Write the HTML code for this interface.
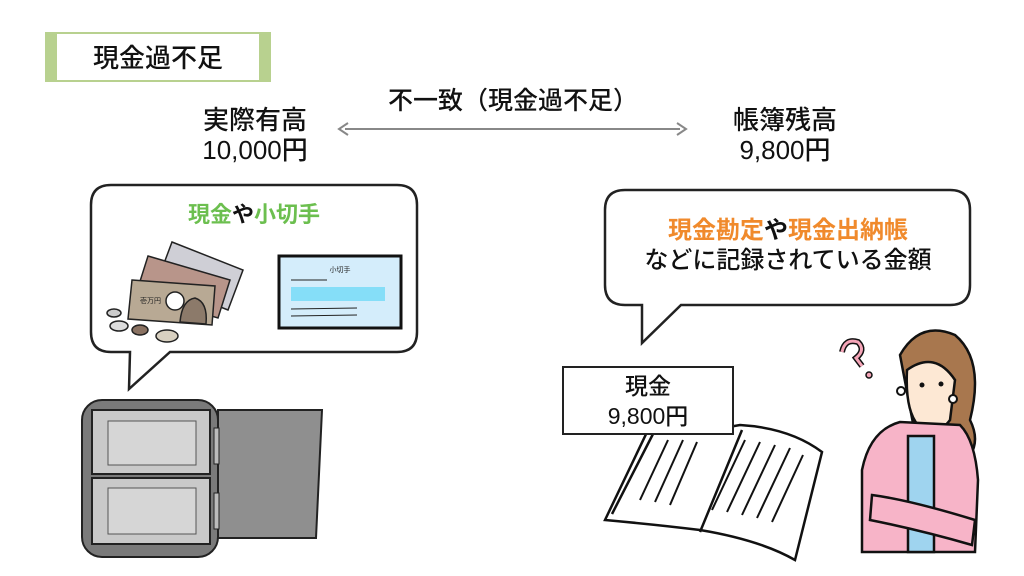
<!DOCTYPE html>
<html><head><meta charset="utf-8"><style>
body{margin:0;background:#fff;}
svg{display:block;font-family:"Liberation Sans","Noto Sans CJK JP",sans-serif;}
</style></head><body>
<svg width="1024" height="576" viewBox="0 0 1024 576">
<!-- title label -->
<rect x="45" y="32" width="226" height="50" fill="#b8d18f"/>
<rect x="57" y="34" width="202" height="46" fill="#fff"/>
<text x="158" y="67" font-size="26" font-weight="500" text-anchor="middle" fill="#111">現金過不足</text>
<!-- headings -->
<text x="255" y="129" font-size="26" font-weight="500" text-anchor="middle" fill="#111">実際有高</text>
<text x="255" y="159" font-size="26" font-weight="500" text-anchor="middle" fill="#111">10,000円</text>
<text x="513" y="109" font-size="25" font-weight="500" text-anchor="middle" fill="#111">不一致（現金過不足）</text>
<text x="785" y="129" font-size="26" font-weight="500" text-anchor="middle" fill="#111">帳簿残高</text>
<text x="785" y="159" font-size="26" font-weight="500" text-anchor="middle" fill="#111">9,800円</text>
<line x1="345" y1="129" x2="680" y2="129" stroke="#888" stroke-width="2"/>
<path d="M348 123 L339 129 L348 135" fill="none" stroke="#888" stroke-width="2"/>
<path d="M677 123 L686 129 L677 135" fill="none" stroke="#888" stroke-width="2"/>
<!-- left bubble -->
<path d="M111 185 H397 Q417 185 417 205 V332 Q417 352 397 352 H170 L129 389 L130 352 H111 Q91 352 91 332 V205 Q91 185 111 185 Z" fill="#fff" stroke="#222" stroke-width="2.5"/>
<text x="254" y="222" font-size="22" text-anchor="middle" font-weight="bold"><tspan fill="#6cbf4f">現金</tspan><tspan fill="#111">や</tspan><tspan fill="#6cbf4f">小切手</tspan></text>
<!-- bills -->
<g stroke="#222" stroke-width="1.5">
<polygon points="172,242 243,270 228,310 157,282" fill="#cfcfd6"/>
<polygon points="148,256 230,280 218,318 136,294" fill="#b8958a"/>
<polygon points="132,280 215,286 212,325 128,319" fill="#b8a994"/>
<circle cx="175" cy="301" r="9" fill="#fff"/>
<path d="M180 322 Q182 300 195 298 Q208 302 206 324 Z" fill="#8c7a6a"/>
</g>
<text x="140" y="303" font-size="7" fill="#222">壱万円</text>
<g stroke="#222" stroke-width="1.5">
<ellipse cx="114" cy="313" rx="7" ry="4" fill="#ccc"/>
<ellipse cx="119" cy="326" rx="9" ry="5" fill="#ddd"/>
<ellipse cx="140" cy="330" rx="8" ry="5" fill="#8a7262"/>
<ellipse cx="167" cy="336" rx="11" ry="6" fill="#d8d0c0"/>
</g>
<!-- cheque -->
<rect x="279" y="256" width="122" height="72" fill="#d4edfb" stroke="#111" stroke-width="3"/>
<text x="340" y="272" font-size="7" text-anchor="middle" fill="#222">小切手</text>
<line x1="291" y1="280" x2="327" y2="280" stroke="#222" stroke-width="1"/>
<rect x="291" y="287" width="94" height="14" fill="#85def8"/>
<line x1="291" y1="309" x2="357" y2="308" stroke="#222" stroke-width="1"/>
<line x1="291" y1="316" x2="357" y2="315" stroke="#222" stroke-width="1"/>
<!-- safe -->
<rect x="82" y="400" width="136" height="157" rx="20" fill="#7a7a7a" stroke="#222" stroke-width="2"/>
<rect x="92" y="410" width="118" height="64" fill="#c9c9c9" stroke="#222" stroke-width="2"/>
<rect x="108" y="421" width="88" height="44" fill="#d6d6d6" stroke="#555" stroke-width="1"/>
<rect x="92" y="478" width="118" height="66" fill="#c9c9c9" stroke="#222" stroke-width="2"/>
<rect x="108" y="488" width="88" height="46" fill="#d6d6d6" stroke="#555" stroke-width="1"/>
<polygon points="218,410 322,410 316,538 218,538" fill="#8f8f8f" stroke="#222" stroke-width="2"/>
<rect x="214" y="428" width="5" height="36" fill="#bbb" stroke="#222"/>
<rect x="214" y="493" width="5" height="36" fill="#bbb" stroke="#222"/>
<!-- right bubble -->
<path d="M625 190 H950 Q970 190 970 210 V285 Q970 305 950 305 H681 L642 343 L642 305 H625 Q605 305 605 285 V210 Q605 190 625 190 Z" fill="#fff" stroke="#222" stroke-width="2.5"/>
<text x="788" y="238" font-size="24" text-anchor="middle" font-weight="bold"><tspan fill="#f08a2c">現金勘定</tspan><tspan fill="#111">や</tspan><tspan fill="#f08a2c">現金出納帳</tspan></text>
<text x="788" y="268" font-size="24" font-weight="500" text-anchor="middle" fill="#111">などに記録されている金額</text>
<!-- book -->
<g stroke="#111" stroke-width="2.5" fill="#fff">
<path d="M605 520 L648 430 Q690 425 700 432 L740 425 Q790 428 822 452 L795 560 Q760 540 700 530 Q660 525 605 520 Z"/>
<path d="M612 514 L653 434 M700 532 L742 430"/>
</g>
<g stroke="#111" stroke-width="2">
<line x1="640" y1="500" x2="668" y2="440"/><line x1="655" y1="502" x2="683" y2="440"/><line x1="670" y1="505" x2="697" y2="442"/>
<line x1="712" y1="510" x2="745" y2="440"/><line x1="727" y1="512" x2="760" y2="442"/><line x1="742" y1="515" x2="775" y2="445"/><line x1="757" y1="518" x2="790" y2="448"/><line x1="772" y1="522" x2="803" y2="455"/>
</g>
<rect x="563" y="367" width="170" height="67" fill="#fff" stroke="#222" stroke-width="2"/>
<text x="648" y="394" font-size="23" font-weight="500" text-anchor="middle" fill="#111">現金</text>
<text x="648" y="424" font-size="23" font-weight="500" text-anchor="middle" fill="#111">9,800円</text>
<!-- woman -->
<g stroke="#111" stroke-width="2.5">
<path d="M900 355 Q920 320 955 335 Q985 360 970 420 Q985 450 955 470 L920 460 Z" fill="#a8774e"/>
<path d="M907 370 Q935 350 955 380 L950 420 Q935 440 918 425 Q905 410 907 370 Z" fill="#fde8d4"/>
<path d="M862 470 Q870 430 900 422 L960 425 Q975 440 978 480 L975 552 L862 552 Z" fill="#f7b4c8"/>
<rect x="908" y="436" width="26" height="116" fill="#9fd4ef"/>
<path d="M872 495 Q910 500 975 520 L972 545 Q920 530 870 520 Z" fill="#f7b4c8"/>
</g>
<circle cx="922" cy="385" r="2.5" fill="#111"/><circle cx="941" cy="384" r="2.5" fill="#111"/>
<circle cx="901" cy="391" r="4" fill="#fff" stroke="#111" stroke-width="2"/>
<circle cx="953" cy="399" r="4" fill="#fff" stroke="#111" stroke-width="2"/>
<path d="M842 352 Q845 338 858 342 Q866 350 856 358 L862 366" fill="none" stroke="#111" stroke-width="6"/>
<path d="M842 352 Q845 338 858 342 Q866 350 856 358 L862 366" fill="none" stroke="#f5a5b8" stroke-width="3"/>
<circle cx="869" cy="375" r="3" fill="#f5a5b8" stroke="#111" stroke-width="1.5"/>
</svg>
</body></html>
